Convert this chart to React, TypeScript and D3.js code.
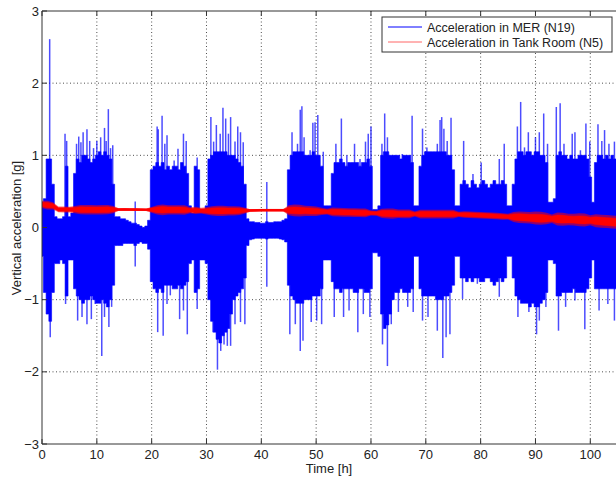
import React from "react";
import * as d3 from "d3";

const W = 616;
const H = 478;

const xTicks = [0, 10, 20, 30, 40, 50, 60, 70, 80, 90, 100];
const yTicks = [-3, -2, -1, 0, 1, 2, 3];

// dense-core envelope of the MER signal, one value per half hour (t = 0, 0.5, ... 105)
const coreMax = [
  0.35, 0.4, 0.95, 0.95, 0.6, 0.15, 0.12, 0.12, 0.15, 0.85, 0.15, 0.2, 0.75, 0.95, 0.9, 1.0, 1.0, 0.95, 0.9, 0.95,
  1.0, 1.05, 1.0, 1.05, 1.0, 0.95, 0.6, 0.15, 0.15, 0.12, 0.12, 0.1, 0.08, 0.06, 0.06, 0.04, 0.02, 0.0, 0.02, 0.1,
  0.8, 0.85, 0.9, 0.85, 0.9, 0.8, 0.85, 0.8, 0.85, 0.85, 0.8, 0.9, 0.85, 0.75, 0.3, 0.2, 0.85, 0.8, 0.25, 0.25,
  0.3, 0.95, 1.0, 1.05, 1.05, 1.05, 1.05, 1.05, 1.0, 1.0, 1.0, 0.95, 0.9, 0.85, 0.6, 0.12, 0.08, 0.08, 0.07, 0.07,
  0.06, 0.06, 0.08, 0.07, 0.07, 0.08, 0.08, 0.08, 0.1, 0.12, 0.8, 1.0, 1.05, 1.05, 1.05, 1.05, 1.0, 1.0, 1.0, 1.05,
  1.0, 1.0, 0.85, 0.3, 0.3, 0.3, 0.75, 0.9, 0.9, 0.95, 0.9, 0.85, 0.9, 0.9, 0.9, 0.9, 0.85, 0.9, 0.9, 0.95,
  0.85, 0.25, 0.25, 0.3, 1.0, 1.05, 1.05, 1.0, 1.0, 1.0, 1.0, 0.95, 1.0, 1.0, 1.0, 0.9, 0.3, 0.3, 0.85, 1.0,
  1.05, 1.05, 1.05, 1.05, 1.05, 1.05, 1.05, 1.05, 1.0, 1.0, 0.8, 0.3, 0.3, 0.6, 0.65, 0.6, 0.55, 0.65, 0.6, 0.55,
  0.6, 0.65, 0.6, 0.55, 0.6, 0.65, 0.6, 0.6, 0.65, 0.6, 0.3, 0.3, 0.6, 0.95, 1.05, 1.05, 1.0, 1.05, 1.05, 1.0,
  1.05, 1.05, 1.0, 1.0, 0.9, 0.35, 0.35, 0.4, 1.0, 1.05, 1.0, 1.0, 0.95, 1.0, 0.95, 0.95, 1.0, 1.0, 1.0, 0.95,
  0.7, 0.35, 0.9, 1.0, 1.0, 0.95, 1.0, 0.95, 1.0, 0.95, 0.95,
];
const coreMin = [
  -0.4, -0.9, -1.2, -1.3, -0.9, -0.5, -0.5, -0.45, -0.5, -0.95, -0.45, -0.45, -0.85, -0.95, -1.0, -1.05, -1.0, -1.0, -0.95, -1.0,
  -1.05, -1.05, -1.0, -1.05, -1.1, -1.0, -0.8, -0.25, -0.25, -0.25, -0.22, -0.22, -0.22, -0.22, -0.25, -0.22, -0.2, -0.22, -0.22, -0.3,
  -0.75, -0.85, -0.9, -0.85, -0.9, -0.8, -0.8, -0.8, -0.85, -0.85, -0.8, -0.85, -0.8, -0.75, -0.5, -0.45, -0.9, -0.85, -0.45, -0.45,
  -0.5, -1.0, -1.3, -1.45, -1.55, -1.6, -1.5, -1.45, -1.4, -1.2, -1.0, -0.95, -0.9, -0.85, -0.7, -0.25, -0.17, -0.16, -0.15, -0.15,
  -0.15, -0.15, -0.16, -0.15, -0.15, -0.15, -0.15, -0.16, -0.17, -0.2, -0.8, -0.95, -1.0, -1.05, -1.05, -1.05, -1.0, -1.0, -1.0, -0.95,
  -0.95, -0.95, -0.85, -0.45, -0.45, -0.45, -0.75, -0.85, -0.85, -0.9, -0.85, -0.85, -0.85, -0.85, -0.9, -0.9, -0.85, -0.85, -0.9, -0.9,
  -0.85, -0.35, -0.35, -0.4, -1.2, -1.4, -1.35, -1.2, -1.0, -0.9, -0.9, -0.85, -0.9, -0.9, -0.9, -0.85, -0.4, -0.4, -0.85, -0.95,
  -0.95, -0.95, -0.95, -0.95, -1.0, -1.0, -1.0, -0.95, -0.95, -0.9, -0.8, -0.4, -0.4, -0.7, -0.7, -0.75, -0.7, -0.75, -0.7, -0.7,
  -0.75, -0.75, -0.7, -0.7, -0.75, -0.8, -0.75, -0.7, -0.75, -0.7, -0.4, -0.4, -0.7, -0.95, -1.0, -1.05, -1.05, -1.05, -1.1, -1.05,
  -1.1, -1.1, -1.05, -1.0, -0.9, -0.45, -0.45, -0.5, -0.95, -0.95, -0.9, -0.9, -0.9, -0.9, -0.85, -0.9, -0.9, -0.9, -0.9, -0.85,
  -0.7, -0.45, -0.85, -0.85, -0.85, -0.85, -0.85, -0.85, -0.85, -0.85, -0.85,
];

// individual peaks of the MER signal [time h, acceleration g]
const peaksUp: [number, number][] = [
  [1.4, 2.61], [4.2, 1.3], [4.5, 1.2], [6.3, 1.16], [6.7, 1.26], [7.1, 1.18], [7.5, 1.32], [8.2, 1.36], [8.7, 1.2],
  [9.4, 1.1], [10.0, 1.2], [10.7, 1.25], [11.4, 1.38], [11.7, 1.2], [12.1, 1.64], [12.5, 1.1], [12.9, 1.14],
  [17.0, 0.36], [21.0, 1.4], [21.2, 1.36], [21.9, 1.55], [22.4, 1.16], [22.8, 1.28], [24.1, 0.93], [24.8, 1.09],
  [25.8, 1.3], [26.3, 1.2], [28.3, 0.97], [30.8, 1.53], [31.3, 1.19], [31.8, 1.42], [32.5, 1.3], [33.0, 1.66],
  [33.5, 1.51], [34.0, 1.3], [34.4, 1.53], [35.2, 1.19], [35.7, 1.4], [36.2, 1.32], [36.7, 1.18], [41.0, 0.63],
  [45.6, 1.32], [46.6, 1.16], [47.1, 1.63], [47.4, 1.68], [47.8, 1.25], [48.9, 1.07], [49.4, 1.45], [49.8, 1.46],
  [50.3, 1.56], [51.3, 1.05], [53.6, 1.16], [54.6, 1.51], [55.6, 1.0], [57.0, 1.16], [58.0, 0.95], [59.0, 1.19],
  [59.5, 1.3], [60.0, 1.4], [62.0, 1.16], [62.5, 1.58], [63.0, 1.25], [64.3, 1.0], [65.7, 1.02], [67.0, 0.95],
  [67.5, 1.55], [69.4, 1.37], [70.2, 1.11], [72.1, 1.16], [72.6, 1.49], [72.9, 1.53], [73.3, 1.37], [73.9, 1.2],
  [74.6, 1.52], [76.9, 1.2], [78.6, 0.74], [80.1, 0.9], [83.4, 0.95], [84.3, 1.16], [86.7, 1.4], [87.3, 1.74],
  [88.0, 1.11], [88.7, 1.32], [90.0, 1.25], [90.7, 1.32], [91.5, 1.58], [92.2, 1.16], [93.8, 1.67], [94.5, 1.72],
  [95.2, 1.16], [96.7, 1.3], [97.2, 1.32], [98.2, 1.07], [99.2, 1.44], [99.9, 1.19], [101.4, 1.43], [102.1, 1.2],
  [102.6, 1.35], [103.4, 1.16], [104.4, 1.19],
];
const peaksDown: [number, number][] = [
  [1.5, -1.52], [4.3, -1.06], [6.5, -1.29], [7.3, -1.24], [8.2, -1.34], [9.0, -1.27], [9.7, -1.06], [10.9, -1.78],
  [11.4, -1.24], [12.2, -1.38], [12.7, -1.1], [17.0, -0.54], [21.1, -1.45], [22.1, -1.5], [22.8, -1.06], [23.4, -0.94],
  [25.1, -1.27], [25.8, -1.15], [26.5, -1.48], [28.3, -1.13], [31.2, -1.45], [32.0, -1.97], [32.6, -1.71],
  [33.2, -1.62], [33.8, -1.64], [34.4, -1.64], [35.2, -1.34], [36.2, -1.31], [37.0, -1.34], [41.0, -0.82],
  [45.2, -1.48], [46.2, -1.34], [47.1, -1.71], [47.6, -1.57], [49.1, -1.31], [50.1, -1.29], [51.0, -1.34],
  [53.3, -1.24], [55.0, -1.24], [56.0, -1.15], [57.6, -1.45], [58.6, -1.2], [59.8, -1.24], [62.1, -1.62],
  [63.0, -1.92], [63.7, -1.34], [65.0, -1.17], [66.7, -1.1], [67.7, -1.17], [69.4, -1.29], [70.4, -1.24],
  [72.1, -1.43], [73.1, -1.81], [73.7, -1.52], [74.4, -1.48], [76.7, -0.99], [79.4, -0.78], [83.4, -0.96],
  [86.8, -1.24], [88.8, -1.17], [90.2, -1.48], [90.7, -1.29], [91.9, -1.1], [94.2, -1.43], [95.5, -1.1],
  [97.2, -1.01], [99.0, -1.41], [101.6, -1.15], [103.2, -1.06], [104.4, -1.29],
];

// Tank Room signal: trend [time h, g] and hourly half-spread (t = 0..105)
const redTrend: [number, number][] = [
  [0, 0.32], [2, 0.3], [3, 0.25], [10, 0.245], [15, 0.25], [20, 0.245], [25, 0.245], [30, 0.23], [35, 0.23],
  [40, 0.24], [45, 0.24], [50, 0.225], [55, 0.21], [60, 0.2], [65, 0.19], [70, 0.185], [75, 0.185], [80, 0.17],
  [85, 0.15], [90, 0.13], [95, 0.115], [100, 0.1], [105, 0.07],
];
const redSpread = [
  0.05, 0.06, 0.05, 0.04, 0.04, 0.04, 0.05, 0.065, 0.065, 0.065,
  0.065, 0.065, 0.065, 0.05, 0.018, 0.018, 0.018, 0.018, 0.018, 0.018,
  0.04, 0.065, 0.075, 0.065, 0.065, 0.065, 0.065, 0.04, 0.05, 0.04,
  0.05, 0.065, 0.07, 0.07, 0.065, 0.065, 0.06, 0.04, 0.018, 0.018,
  0.018, 0.018, 0.018, 0.018, 0.018, 0.07, 0.08, 0.08, 0.07, 0.07,
  0.065, 0.05, 0.04, 0.06, 0.06, 0.06, 0.06, 0.06, 0.06, 0.06,
  0.035, 0.035, 0.065, 0.07, 0.07, 0.06, 0.06, 0.06, 0.035, 0.06,
  0.06, 0.06, 0.06, 0.06, 0.06, 0.06, 0.035, 0.045, 0.045, 0.045,
  0.045, 0.045, 0.045, 0.045, 0.045, 0.04, 0.07, 0.08, 0.08, 0.08,
  0.09, 0.09, 0.08, 0.06, 0.09, 0.09, 0.08, 0.08, 0.09, 0.09,
  0.07, 0.09, 0.09, 0.09, 0.09, 0.09,
];

const legendLabels = ["Acceleration in MER (N19)", "Acceleration in Tank Room (N5)"];
const FONT = "'Liberation Sans', Arial, Helvetica, sans-serif";

export default function App() {
  const L = 42, R = 616, T = 11, B = 444;
  const x = d3.scaleLinear().domain([0, 100]).range([L, 590.3]);
  const y = d3.scaleLinear().domain([-3, 3]).range([B, T]);

  const halfIdx = coreMax.map((_, i) => i);
  const coreArea = d3
    .area<number>()
    .curve(d3.curveStep)
    .x((i) => x(i * 0.5))
    .y0((i) => y(coreMin[i]))
    .y1((i) => y(coreMax[i]))(halfIdx) as string;

  const hours = redSpread.map((_, i) => i);
  const trend = d3.scaleLinear().domain(redTrend.map((d) => d[0])).range(redTrend.map((d) => d[1]));
  const redOuter = d3
    .area<number>()
    .x((i) => x(i))
    .y0((i) => y(trend(i) - redSpread[i]))
    .y1((i) => y(trend(i) + redSpread[i]))(hours) as string;
  const redInner = d3
    .area<number>()
    .x((i) => x(i))
    .y0((i) => y(trend(i) - redSpread[i] * 0.6))
    .y1((i) => y(trend(i) + redSpread[i] * 0.6))(hours) as string;
  const redLine = d3
    .line<number>()
    .x((i) => x(i))
    .y((i) => y(trend(i)))(hours) as string;

  const grid = "#222";
  return (
    <svg width={W} height={H} style={{ position: "absolute", left: 0, top: 0, background: "#fff" }} fontFamily={FONT}>
      <defs>
        <clipPath id="plot">
          <rect x={L} y={T} width={R - L} height={B - T} />
        </clipPath>
      </defs>
      <rect x={0} y={0} width={W} height={H} fill="#fff" />
      {xTicks.filter((t) => t > 0).map((t) => (
        <line key={"gx" + t} x1={x(t)} x2={x(t)} y1={T} y2={B} stroke={grid} strokeWidth={0.8} strokeDasharray="1,2.5" />
      ))}
      {yTicks.filter((t) => t > -3 && t < 3).map((t) => (
        <line key={"gy" + t} x1={L} x2={R} y1={y(t)} y2={y(t)} stroke={grid} strokeWidth={0.8} strokeDasharray="1,2.5" />
      ))}
      <g clipPath="url(#plot)">
        <path d={coreArea} fill="#0000ff" stroke="#0000ff" strokeWidth={0.6} />
        {peaksUp.concat(peaksDown).map(([t, v], i) => (
          <line key={"p" + i} x1={x(t)} x2={x(t)} y1={y(0)} y2={y(v)} stroke="#0000ff" strokeWidth={1.5} strokeOpacity={0.7} />
        ))}
        <path d={redOuter} fill="#ff0000" fillOpacity={0.55} stroke="none" />
        <path d={redInner} fill="#ff0000" stroke="#ff0000" strokeWidth={0.6} />
        <path d={redLine} fill="none" stroke="#ff0000" strokeWidth={2.2} />
      </g>
      <line x1={L} x2={R} y1={T} y2={T} stroke="#333" strokeWidth={1} />
      <line x1={L} x2={R} y1={B} y2={B} stroke="#333" strokeWidth={1} />
      <line x1={L} x2={L} y1={T} y2={B} stroke="#333" strokeWidth={1} />
      {xTicks.map((t) => (
        <g key={"xt" + t}>
          <line x1={x(t)} x2={x(t)} y1={B} y2={B - 5} stroke="#333" />
          <line x1={x(t)} x2={x(t)} y1={T} y2={T + 5} stroke="#333" />
          <text x={x(t)} y={459} textAnchor="middle" fontSize={13} fill="#222">{t}</text>
        </g>
      ))}
      {yTicks.map((t) => (
        <g key={"yt" + t}>
          <line x1={L} x2={L + 5} y1={y(t)} y2={y(t)} stroke="#333" />
          <text x={39} y={y(t) + 4.5} textAnchor="end" fontSize={13} fill="#222">{t < 0 ? "\u2212" + Math.abs(t) : String(t)}</text>
        </g>
      ))}
      <text x={329} y={473} textAnchor="middle" fontSize={13} fill="#222">Time [h]</text>
      <text transform={`translate(21,228) rotate(-90)`} textAnchor="middle" fontSize={13} fill="#222">Vertical acceleration [g]</text>
      <rect x={382} y={17} width={230} height={35} fill="#fff" stroke="#333" strokeWidth={1} />
      <line x1={388} x2={422} y1={27} y2={27} stroke="#0000ff" strokeWidth={1} />
      <line x1={388} x2={422} y1={42} y2={42} stroke="#ff0000" strokeWidth={1} strokeOpacity={0.6} />
      <text x={427} y={31.5} fontSize={12.5} fill="#222">{legendLabels[0]}</text>
      <text x={427} y={46.5} fontSize={12.5} fill="#222">{legendLabels[1]}</text>
    </svg>
  );
}
